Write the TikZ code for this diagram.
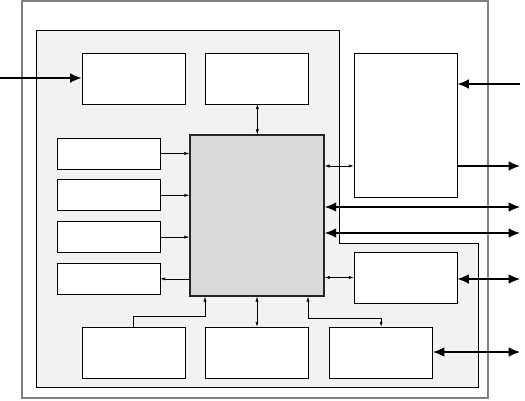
\documentclass[tikz,border=0pt]{standalone}
\usepackage{tikz}
\usetikzlibrary{arrows.meta, positioning}

\begin{document}
\begin{tikzpicture}[
  x=1pt, y=-1pt,
  blk/.style={draw, fill=white, minimum width=103pt, minimum height=51pt, inner sep=0pt, line width=0.8pt},
  slim/.style={blk, minimum height=31pt},
  core/.style={draw=black!85, fill=gray!30, minimum width=134pt, minimum height=161pt, inner sep=0pt, line width=1.5pt},
  link/.style={-{Latex[length=1.7mm, width=1.1mm]}, line width=0.5pt},
  dlink/.style={{Latex[length=1.7mm, width=1.1mm]}-{Latex[length=1.7mm, width=1.1mm]}, line width=0.5pt},
  wire/.style={-{Latex[length=4mm, width=3.4mm]}, line width=1.5pt},
  dwire/.style={{Latex[length=4mm, width=3.4mm]}-{Latex[length=4mm, width=3.4mm]}, line width=1.5pt}
]
\useasboundingbox (0,0) rectangle (525,400);
\draw[gray, line width=2pt] (21.5,1) rectangle (488,398);
\draw[fill=gray!10, line width=0.8pt] (36,30) -- (339,30) -- (339,243) -- (478,243) -- (478,387) -- (36,387) -- cycle;

\node[blk] (ta) at (133.5,78.5) {};
\node[blk, right=20pt of ta] (tb) {};
\node[blk, minimum height=144pt] (io) at (405.5,125) {};
\node[slim] (l1) at (108.5,153.5) {};
\node[slim, below=10pt of l1] (l2) {};
\node[slim, below=10pt of l2] (l3) {};
\node[slim, below=10pt of l3] (l4) {};
\node[core] (cpu) at (257,215.5) {};
\node[blk] (rd) at (405.5,277.5) {};
\node[blk] (b1) at (133.5,352.5) {};
\node[blk, right=20pt of b1] (b2) {};
\node[blk, right=20pt of b2] (b3) {};

\coordinate (w0) at (0,78);
\coordinate (o1) at (520,84);
\coordinate (o2) at (520,166);
\coordinate (o3) at (520,207);
\coordinate (o4) at (520,233);
\coordinate (o5) at (520,279);
\coordinate (o6) at (520,352);

\draw[wire] (w0) -- (ta.west |- w0);
\draw[wire] (o1) -- (io.east |- o1);
\draw[wire] (io.east |- o2) -- (o2);
\draw[dwire] (cpu.east |- o3) -- (o3);
\draw[dwire] (cpu.east |- o4) -- (o4);
\draw[dwire] (rd.east |- o5) -- (o5);
\draw[dwire] (b3.east |- o6) -- (o6);

\draw[dlink] (tb.south) -- (tb.south |- cpu.north);
\draw[link] (l1.east) -- (l1.east -| cpu.west);
\draw[link] (l2.east) -- (l2.east -| cpu.west);
\draw[link] (l3.east) -- (l3.east -| cpu.west);
\draw[link] (l4.east -| cpu.west) -- (l4.east);
\draw[dlink] (cpu.east |- o2) -- (io.west |- o2);
\draw[dlink] (rd.west -| cpu.east) -- (rd.west);
\draw[link] (b1.north) -- ++(0,-10) -| ([xshift=-52pt]cpu.south);
\draw[dlink] (cpu.south) -- (cpu.south |- b2.north);
\draw[dlink] ([xshift=51pt]cpu.south) -- ++(0,21) -| (b3.north);
\end{tikzpicture}
\end{document}
